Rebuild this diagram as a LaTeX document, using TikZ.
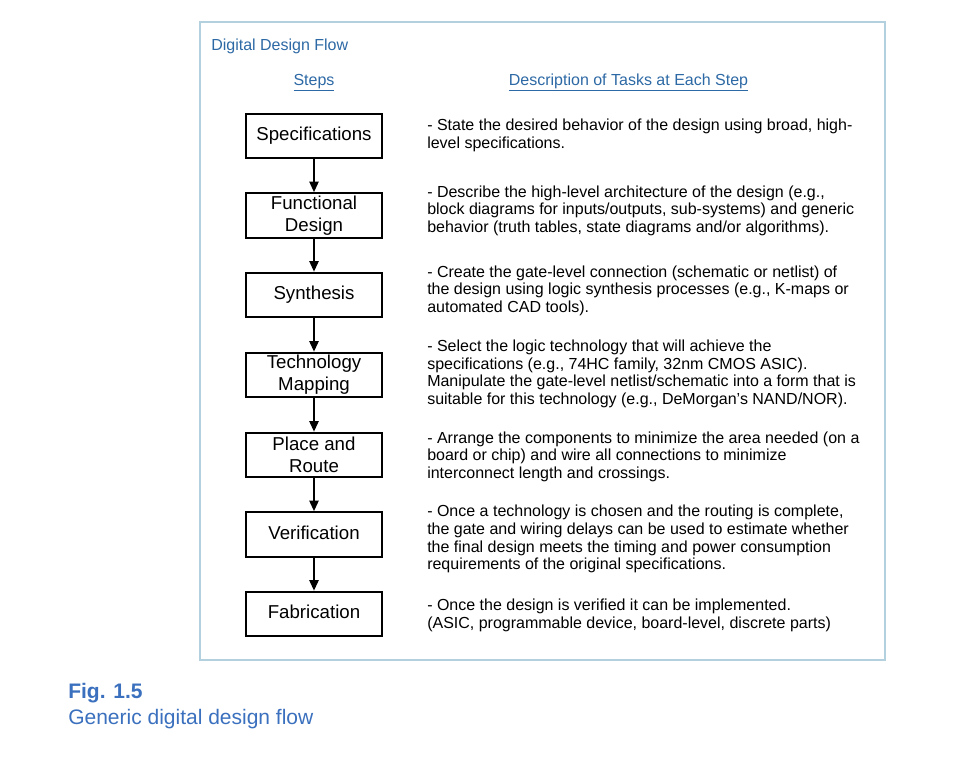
\documentclass[tikz,border=0pt]{standalone}
\usepackage{fontspec}
\setmainfont{Liberation Sans}
\usetikzlibrary{arrows.meta}
\definecolor{framec}{RGB}{178,208,222}
\definecolor{titlec}{RGB}{45,105,165}
\definecolor{capc}{RGB}{58,112,190}
\newcommand{\onel}{\rule[-3pt]{0pt}{11.4pt}}
\begin{document}
\begin{tikzpicture}[x=0.75pt,y=-0.75pt,
  stepbox/.style={draw=black, line width=1.5pt, minimum width=102.5pt, minimum height=33.5pt, inner sep=0pt, align=center, font=\fontsize{14}{16.5}\selectfont},
  desc/.style={anchor=north west, inner sep=0pt, align=left, font=\fontsize{12}{13.2}\selectfont},
  hdr/.style={anchor=base, inner sep=0pt, text=titlec, font=\fontsize{12}{14}\selectfont},
  flow/.style={-{Triangle[length=8pt,width=7pt]}, line width=1.3pt}]
\useasboundingbox (0,0) rectangle (967,767);
\fill[white] (0,0) rectangle (967,767);
\draw[framec, line width=0.9pt] (200,22) rectangle (885,660);
\node[anchor=base west, inner sep=0pt, text=titlec, font=\fontsize{12}{14}\selectfont] (title) at (211,51) {Digital Design Flow};
\node[hdr] (steps) at (314,85) {\underline{Steps}};
\node[hdr] (deschdr) at (628.5,85) {\underline{Description of Tasks at Each Step}};

\node[stepbox] (spec) at (314,136) {\onel Specifications};
\node[stepbox] (func) at (314,215.5) {Functional\\Design};
\node[stepbox] (synth) at (314,295) {\onel Synthesis};
\node[stepbox] (tech) at (314,375) {Technology\\Mapping};
\node[stepbox] (place) at (314,455) {Place and\\Route};
\node[stepbox] (verif) at (314,534.5) {\onel Verification};
\node[stepbox] (fab) at (314,614) {\onel Fabrication};

\draw[flow] (spec) -- (func);
\draw[flow] (func) -- (synth);
\draw[flow] (synth) -- (tech);
\draw[flow] (tech) -- (place);
\draw[flow] (place) -- (verif);
\draw[flow] (verif) -- (fab);

\node[desc] (d1) at (427,118.2) {\strut- State the desired behavior of the design using broad, high-\\level specifications.};
\node[desc] (d2) at (427,184.7) {\strut- Describe the high-level architecture of the design (e.g.,\\block diagrams for inputs/outputs, sub-systems) and generic\\behavior (truth tables, state diagrams and/or algorithms).};
\node[desc] (d3) at (427,264.7) {\strut- Create the gate-level connection (schematic or netlist) of\\the design using logic synthesis processes (e.g., K-maps or\\automated CAD tools).};
\node[desc] (d4) at (427,339.2) {\strut- Select the logic technology that will achieve the\\specifications (e.g., 74HC family, 32nm CMOS ASIC).\\Manipulate the gate-level netlist/schematic into a form that is\\suitable for this technology (e.g., DeMorgan’s NAND/NOR).};
\node[desc] (d5) at (427,430.7) {\strut- Arrange the components to minimize the area needed (on a\\board or chip) and wire all connections to minimize\\interconnect length and crossings.};
\node[desc] (d6) at (427,504.4) {\strut- Once a technology is chosen and the routing is complete,\\the gate and wiring delays can be used to estimate whether\\the final design meets the timing and power consumption\\requirements of the original specifications.};
\node[desc] (d7) at (427,598.2) {\strut- Once the design is verified it can be implemented.\\(ASIC, programmable device, board-level, discrete parts)};

\node[anchor=base west, inner sep=0pt, text=capc, font=\fontsize{15.75}{18}\selectfont\bfseries] (figlbl) at (68,698) {Fig. 1.5};
\node[anchor=base west, inner sep=0pt, text=capc, font=\fontsize{15.75}{18}\selectfont] (figcap) at (68,724) {Generic digital design flow};
\end{tikzpicture}
\end{document}
